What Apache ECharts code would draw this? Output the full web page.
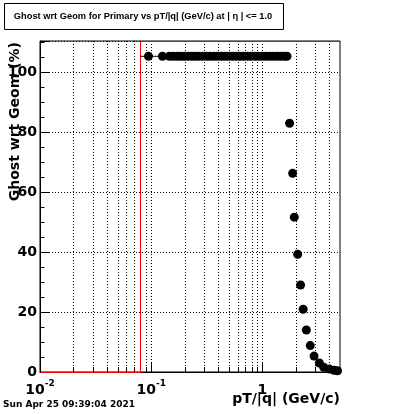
<!DOCTYPE html>
<html><head><meta charset="utf-8">
<script src="https://cdn.jsdelivr.net/npm/echarts@6/dist/echarts.min.js"></script>
<style>html,body{margin:0;padding:0;background:#fff}#c{width:400px;height:414px}</style>
</head><body><div id="c"></div>
<script>
// pT/|q| (GeV/c) bin centres and ghost fraction (%)
const ptValues = [0.0946, 0.1265,
  0.146, 0.158, 0.171, 0.184, 0.199, 0.215, 0.232, 0.250, 0.270, 0.292, 0.315,
  0.340, 0.367, 0.396, 0.429, 0.462, 0.499, 0.540, 0.582, 0.628, 0.679, 0.733,
  0.791, 0.855, 0.923, 0.995, 1.076, 1.161, 1.253, 1.355, 1.462, 1.578, 1.667,
  1.76, 1.875, 1.94, 2.08, 2.21, 2.33, 2.49, 2.70, 2.92, 3.26, 3.57, 4.00, 4.42, 4.75];
const ghostValues = [105.2, 105.2,
  105.2, 105.2, 105.2, 105.2, 105.2, 105.2, 105.2, 105.2, 105.2, 105.2, 105.2,
  105.2, 105.2, 105.2, 105.2, 105.2, 105.2, 105.2, 105.2, 105.2, 105.2, 105.2,
  105.2, 105.2, 105.2, 105.2, 105.2, 105.2, 105.2, 105.2, 105.2, 105.2, 105.2,
  82.9, 66.2, 51.6, 39.2, 29.0, 20.9, 14.0, 8.8, 5.3, 3.0, 1.6, 1.0, 0.6, 0.4];
// x error bar of the first (wide) bins
const errBarX = [0.08, 0.146];
const errBarY = [105.2, 105.2];
// red reference step curve
const redX = [0.01, 0.08, 0.08, 5];
const redY = [0, 0, 110.3, 110.3];
// axis ranges and ticks
const xMin = 0.01, xMax = 5;
const yMin = 0, yMax = 110.3;
const xMajorTicks = [0.01, 0.1, 1];
const xMinorTicks = [0.02, 0.03, 0.04, 0.05, 0.06, 0.07, 0.08, 0.09,
  0.2, 0.3, 0.4, 0.5, 0.6, 0.7, 0.8, 0.9, 2, 3, 4];
const titleText = 'Ghost wrt Geom for Primary vs pT/|q| (GeV/c) at | \u03B7 | <= 1.0';
const yTitle = 'Ghost wrt Geom (%)';
const xTitle = 'pT/|q| (GeV/c)';
const dateText = 'Sun Apr 25 09:39:04 2021';

const BIG = 'DejaVu Sans';
const chart = echarts.init(document.getElementById('c'), null, {renderer: 'canvas'});

const tickData = xMajorTicks.map(v => [v, 2]).concat(xMinorTicks.map(v => [v, 1]));
const snap = p => Math.round(p) + 0.5;

chart.setOption({
  animation: false,
  backgroundColor: '#fff',
  grid: {left: 40, right: 60, top: 41, bottom: 42, show: true, borderColor: '#000', borderWidth: 1, containLabel: false},
  xAxis: {
    type: 'log', logBase: 10, min: xMin, max: xMax,
    axisLine: {show: true, lineStyle: {color: '#000', width: 1}},
    axisTick: {show: false}, splitLine: {show: false}, minorTick: {show: false},
    axisLabel: {
      margin: 7, color: '#000',
      formatter: function (v) {
        const l = Math.log10(v), r = Math.round(l);
        if (Math.abs(l - r) > 1e-6) return '';
        if (r === 0) return '{b|1}';
        return '{b|10}{s|' + r + '}';
      },
      rich: {
        b: {fontFamily: BIG, fontWeight: 'bold', fontSize: 14, lineHeight: 18, color: '#000', verticalAlign: 'bottom'},
        s: {fontFamily: BIG, fontWeight: 'bold', fontSize: 9, lineHeight: 10, color: '#000', verticalAlign: 'top'}
      }
    }
  },
  yAxis: [{
    type: 'value', min: yMin, max: yMax, interval: 20,
    axisLine: {show: true, lineStyle: {color: '#000'}},
    axisTick: {show: true, inside: true, length: 9, lineStyle: {color: '#000'}},
    splitLine: {show: true, lineStyle: {color: '#000', type: [1, 2], width: 1}},
    axisLabel: {
      margin: 3, color: '#000', fontFamily: BIG, fontWeight: 'bold', fontSize: 14,
      formatter: v => (Math.abs(v % 20) < 1e-9 ? String(v) : '')
    }
  }, {
    type: 'value', min: yMin, max: yMax, interval: 5, position: 'left',
    axisLine: {show: false},
    axisTick: {show: true, inside: true, length: 4.5, lineStyle: {color: '#000'}},
    splitLine: {show: false}, axisLabel: {show: false}
  }],
  series: [
    {
      type: 'custom', data: tickData, silent: true, z: 1,
      renderItem: function (params, api) {
        const v = api.value(0), kind = api.value(1);
        const x = snap(api.coord([v, 0])[0]);
        const cs = params.coordSys;
        const top = cs.y, bot = cs.y + cs.height;
        const ch = [];
        if (v > xMin * 1.001) {
          ch.push({type: 'line', shape: {x1: x, y1: top, x2: x, y2: bot},
            style: {stroke: '#000', lineWidth: 1, lineDash: [1, 2]}});
        }
        ch.push({type: 'line', shape: {x1: x, y1: bot, x2: x, y2: bot - (kind === 2 ? 10 : 5)},
          style: {stroke: '#000', lineWidth: 1}});
        return {type: 'group', children: ch};
      }
    },
    {
      type: 'custom', silent: true, z: 3,
      data: redX.map((x, i) => [x, redY[i]]),
      renderItem: function (params, api) {
        if (params.dataIndex !== 0) return null;
        const pts = redX.map((x, i) => {
          const c = api.coord([x, redY[i]]);
          return [snap(c[0]), snap(c[1])];
        });
        return {type: 'polyline', shape: {points: pts}, style: {stroke: '#ff0000', lineWidth: 1, fill: null}};
      }
    },
    {
      type: 'line', data: errBarX.map((x, i) => [x, errBarY[i]]), symbol: 'none',
      lineStyle: {color: '#000', width: 1}, z: 4, silent: true
    },
    {
      type: 'scatter', data: ptValues.map((x, i) => [x, ghostValues[i]]),
      symbol: 'circle', symbolSize: 9, itemStyle: {color: '#000', opacity: 1}, z: 5, silent: true
    }
  ],
  graphic: [
    {type: 'rect', shape: {x: 4.5, y: 3.5, width: 279, height: 26}, style: {fill: '#fff', stroke: '#000', lineWidth: 1}, z: 10},
    {type: 'text', x: 143, y: 16.5, z: 11, style: {text: titleText, font: 'bold 9.3px "Liberation Sans"', fill: '#000', align: 'center', verticalAlign: 'middle', textAlign: 'center', textVerticalAlign: 'middle'}},
    {type: 'text', x: 15, y: 42, rotation: Math.PI / 2, z: 11, style: {text: yTitle, font: 'bold 14px "DejaVu Sans"', fill: '#000', align: 'right', verticalAlign: 'middle', textAlign: 'right', textVerticalAlign: 'middle'}},
    {type: 'text', x: 340, y: 399.5, z: 11, style: {text: xTitle, font: 'bold 14px "DejaVu Sans"', fill: '#000', align: 'right', verticalAlign: 'middle', textAlign: 'right', textVerticalAlign: 'middle'}},
    {type: 'text', x: 3, y: 405, z: 11, style: {text: dateText, font: 'bold 9px "DejaVu Sans"', fill: '#000', align: 'left', verticalAlign: 'middle', textAlign: 'left', textVerticalAlign: 'middle'}}
  ]
});
</script></body></html>
